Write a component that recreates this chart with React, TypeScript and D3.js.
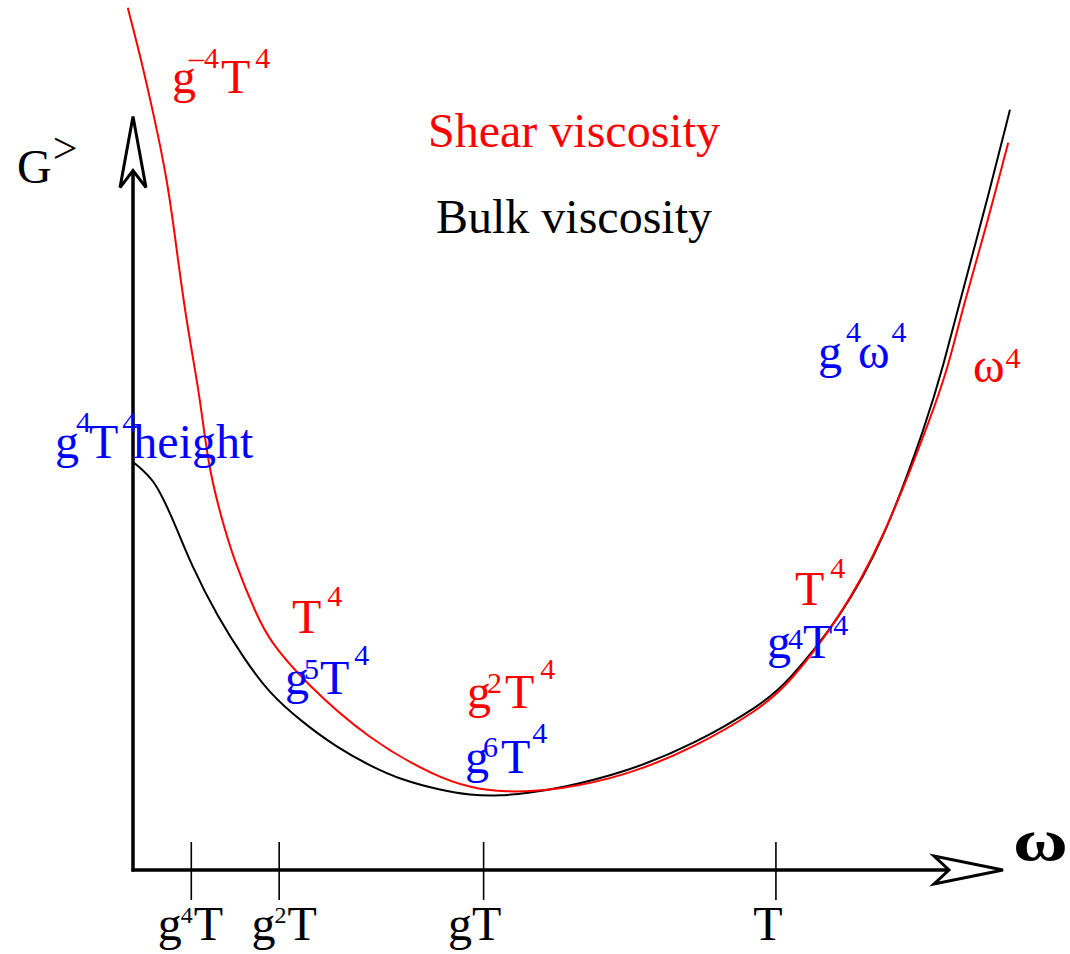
// @ts-nocheck
import React from 'react'
import * as d3 from 'd3'

// schematic spectral function G>(ω); units are arbitrary (one unit = one step of the sketch grid)
const shearOmega = [-0.06, 0.08, 0.2, 0.4, 0.52, 0.63, 0.77, 0.86, 1.0, 1.17, 1.43, 1.57, 1.95, 2.72, 3.49, 3.87, 4.25, 4.91, 5.68, 6.44, 7.21, 7.55, 8.13, 8.62, 9.16, 9.37, 9.54, 9.82, 10.06]
const shearG = [9.91, 9.37, 8.85, 7.93, 6.98, 6.21, 5.44, 4.68, 4.1, 3.53, 2.91, 2.64, 2.18, 1.49, 1.07, 0.95, 0.89, 0.92, 1.09, 1.4, 1.85, 2.15, 2.91, 3.79, 5.17, 5.78, 6.47, 7.44, 8.36]

const bulkOmega = [0, 0.11, 0.23, 0.34, 0.51, 0.66, 0.97, 1.29, 1.57, 1.92, 2.34, 2.72, 3.1, 3.53, 3.87, 4.22, 4.56, 4.91, 5.68, 6.44, 7.21, 7.52, 8.13, 8.62, 9.13, 9.31, 9.54, 9.85, 10.08]
const bulkG = [4.69, 4.6, 4.48, 4.29, 3.91, 3.53, 2.91, 2.41, 2.03, 1.72, 1.41, 1.2, 1.03, 0.92, 0.86, 0.85, 0.89, 0.94, 1.13, 1.44, 1.89, 2.15, 2.9, 3.76, 5.17, 5.78, 6.67, 7.82, 8.74]

// tick positions on the ω axis and their labels (base, superscript, base)
const tickOmega = [0.67, 1.68, 4.03, 7.39]
const tickLabels = [['g', '4', 'T'], ['g', '2', 'T'], ['gT', '', ''], ['T', '', '']]
const tickNudge = [-1, 5, -9, -8]

const xMax = 10
const yMax = 8.66

const FONT = '"Liberation Serif", "Times New Roman", serif'
const RED = '#ff0000'
const BLUE = '#0000ff'

// rich labels: [text, superscript level, dx]
const labels = [
    { x: 17, y: 183, color: 'black', shift: 20, parts: [['G', 0, 0], ['>', 1, 1]], supSize: 44 },
    { x: 172, y: 93, color: RED, shift: 25, parts: [['g', 0, 0], ['\u20134', 1, -7], ['T', 0, 2], ['4', 1, 5]] },
    { x: 55, y: 458, color: BLUE, shift: 26, parts: [['g', 0, 0], ['4', 1, -3], ['T', 0, -2], ['4', 1, 4], ['height', 0, -4]] },
    { x: 818, y: 368, color: BLUE, shift: 26, parts: [['g', 0, 0], ['4', 1, 4], ['\u03c9', 0, -3], ['4', 1, 2]] },
    { x: 973, y: 382, color: RED, shift: 14, parts: [['\u03c9', 0, 0], ['4', 1, 1]] },
    { x: 292, y: 633, color: RED, shift: 27, parts: [['T', 0, 0], ['4', 1, 6]] },
    { x: 285, y: 694, color: BLUE, shift: 15, parts: [['g', 0, 0], ['5', 1, -5], ['T', 0, 1], ['4', 2, 5]] },
    { x: 467, y: 708, color: RED, shift: 15, parts: [['g', 0, 0], ['2', 1, -4], ['T', 0, 3], ['4', 2, 6]] },
    { x: 465, y: 773, color: BLUE, shift: 16, parts: [['g', 0, 0], ['6', 1, -6], ['T', 0, 3], ['4', 2, 2]] },
    { x: 795, y: 605, color: RED, shift: 27, parts: [['T', 0, 0], ['4', 1, 6]] },
    { x: 767, y: 658, color: BLUE, shift: 9, parts: [['g', 0, 0], ['4', 1, -3], ['T', 0, 0], ['4', 2, 1]] },
]

const RichText = ({ l }) => {
    let cur = 0
    const spans = []
    l.parts.forEach(([t, sup, dx], i) => {
        // level 1 = normal shift, level 2 = higher shift (after a capital)
        const target = sup === 0 ? 0 : sup === 1 ? -l.shift : -l.shift - 14
        const dy = target - cur
        cur = target
        spans.push(<tspan key={i} dx={dx} dy={dy} fontSize={sup ? (l.supSize ?? 30) : 48}>{t}</tspan>)
    })
    return <text x={l.x} y={l.y} fill={l.color} fontFamily={FONT}>{spans}</text>
}

export default function App() {
    const width = 1070, height = 954

    const x = d3.scaleLinear([0, 10], [133, 1003])
    const y = d3.scaleLinear([0, 10], [870, 0])

    const line = d3.line()
        .x(d => x(d[0]))
        .y(d => y(d[1]))
        .curve(d3.curveBasis)

    const shear = shearOmega.map((w, i) => [w, shearG[i]])
    const bulk = bulkOmega.map((w, i) => [w, bulkG[i]])

    const x0 = x(0), y0 = y(0)
    const xTip = x(xMax), yTip = y(yMax)

    return <svg width={width} height={height} style={{ position: 'absolute', left: 0, top: 0, background: 'white' }}>
        {/* curves */}
        <path d={line(bulk)} fill="none" stroke="black" strokeWidth={2} />
        <path d={line(shear)} fill="none" stroke={RED} strokeWidth={2} />

        {/* axes */}
        <line x1={x0} y1={y0 + 1.5} x2={x0} y2={yTip + 53} stroke="black" strokeWidth={3.5} />
        <line x1={x0 - 1.5} y1={y0} x2={xTip - 54} y2={y0} stroke="black" strokeWidth={3.5} />
        <path d={`M${x0},${yTip} L${x0 - 13},${yTip + 71} L${x0},${yTip + 54} L${x0 + 13},${yTip + 71} Z`}
            fill="white" stroke="black" strokeWidth={3} strokeLinejoin="miter" />
        <path d={`M${xTip},${y0} L${xTip - 69},${y0 - 14} L${xTip - 54},${y0} L${xTip - 69},${y0 + 14} Z`}
            fill="white" stroke="black" strokeWidth={3} strokeLinejoin="miter" />

        {/* ticks */}
        {tickOmega.map((w, i) => <g key={i}>
            <line x1={x(w)} x2={x(w)} y1={y0 - 28} y2={y0 + 30} stroke="black" strokeWidth={1.6} />
            <text x={x(w) + tickNudge[i]} y={940} textAnchor="middle" fontFamily={FONT} fontSize={48}>
                {tickLabels[i][0]}
                {tickLabels[i][1] && <tspan dy={-17} dx={-1} fontSize={24}>{tickLabels[i][1]}</tspan>}
                {tickLabels[i][2] && <tspan dy={17} dx={1}>{tickLabels[i][2]}</tspan>}
            </text>
        </g>)}

        {/* axis name */}
        <text x={1013} y={860} fontFamily={FONT} fontSize={60} fontWeight="bold"
            transform="translate(1013,860) scale(1.25,1) translate(-1013,-860)">{'\u03c9'}</text>

        {/* legend */}
        <text x={574} y={147} textAnchor="middle" fill={RED} fontFamily={FONT} fontSize={48}>Shear viscosity</text>
        <text x={574} y={233} textAnchor="middle" fill="black" fontFamily={FONT} fontSize={48}>Bulk viscosity</text>

        {labels.map((l, i) => <RichText key={i} l={l} />)}
    </svg>
}
